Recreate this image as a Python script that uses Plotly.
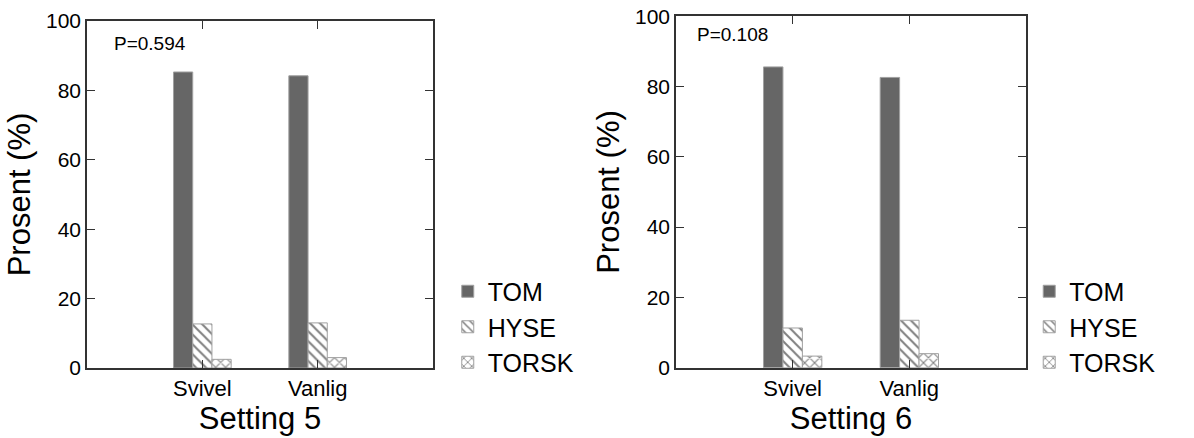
import plotly.graph_objects as go

categories = ["Svivel", "Vanlig"]
series_names = ["TOM", "HYSE", "TORSK"]
setting5_tom = [85.3, 84.2]
setting5_hyse = [12.7, 13.0]
setting5_torsk = [2.5, 3.0]
setting6_tom = [85.6, 82.6]
setting6_hyse = [11.3, 13.5]
setting6_torsk = [3.3, 4.0]
panel_titles = ["Setting 5", "Setting 6"]
p_values = ["P=0.594", "P=0.108"]
y_ticks = [0, 20, 40, 60, 80, 100]

FONT = "Liberation Sans, Arial, sans-serif"

styles = {
    "TOM": dict(color="#666666", pattern=None),
    "HYSE": dict(color="white", pattern=dict(shape="\\", fgcolor="black", bgcolor="white", size=7, solidity=0.28)),
    "TORSK": dict(color="white", pattern=dict(shape="x", fgcolor="black", bgcolor="white", size=7, solidity=0.28)),
}

fig = go.Figure()
panels = [
    (setting5_tom, setting5_hyse, setting5_torsk),
    (setting6_tom, setting6_hyse, setting6_torsk),
]
for i, vals in enumerate(panels):
    xa = "x" if i == 0 else "x2"
    ya = "y" if i == 0 else "y2"
    lg = "legend" if i == 0 else "legend2"
    for name, v in zip(series_names, vals):
        st = styles[name]
        marker = dict(color=st["color"], line=dict(color="#a0a0a0", width=1))
        if st["pattern"]:
            marker["pattern"] = st["pattern"]
        fig.add_trace(go.Bar(
            x=categories, y=v, name=name, marker=marker,
            xaxis=xa, yaxis=ya, legend=lg,
        ))

axis_common = dict(
    showline=True, linecolor="#333333", linewidth=1.5, mirror="ticks",
    ticks="inside", ticklen=8, tickcolor="#333333", tickwidth=1.2,
    showgrid=False, zeroline=False,
)
xfont = dict(family=FONT, size=22, color="black")
yfont = dict(family=FONT, size=21, color="black")
tfont = dict(family=FONT, size=31, color="black")
lfont = dict(family=FONT, size=25, color="black")

fig.update_layout(
    width=1194, height=438,
    paper_bgcolor="white", plot_bgcolor="white",
    margin=dict(l=0, r=0, t=0, b=0),
    barmode="group", bargap=0.5, bargroupgap=0,
    font=dict(family=FONT, color="black"),
    xaxis=dict(domain=[0.07286, 0.36265], anchor="y", range=[-1, 2], tickfont=xfont,
               title=dict(text=panel_titles[0], font=tfont, standoff=2),
               automargin=False, **axis_common),
    yaxis=dict(domain=[0.1598, 0.9521], anchor="x", range=[0, 100], tickvals=y_ticks, tickfont=yfont,
               title=dict(text="Prosent (%)", font=tfont, standoff=6),
               automargin=False, **axis_common),
    xaxis2=dict(domain=[0.56616, 0.85930], anchor="y2", range=[-1, 2], tickfont=xfont,
                title=dict(text=panel_titles[1], font=tfont, standoff=2),
                automargin=False, **axis_common),
    yaxis2=dict(domain=[0.1605, 0.9628], anchor="x2", range=[0, 100], tickvals=y_ticks, tickfont=yfont,
                title=dict(text="Prosent (%)", font=tfont, standoff=6),
                automargin=False, **axis_common),
    legend=dict(x=0.375, y=0.2534, xanchor="left", yanchor="middle",
                font=lfont, bgcolor="rgba(0,0,0,0)", tracegroupgap=0),
    legend2=dict(x=0.862, y=0.2534, xanchor="left", yanchor="middle",
                 font=lfont, bgcolor="rgba(0,0,0,0)", tracegroupgap=0),
    annotations=[
        dict(x=-0.78, y=93.4, xref="x", yref="y", text=p_values[0], showarrow=False,
             xanchor="left", yanchor="middle", font=dict(family=FONT, size=19, color="black")),
        dict(x=-0.84, y=94.7, xref="x2", yref="y2", text=p_values[1], showarrow=False,
             xanchor="left", yanchor="middle", font=dict(family=FONT, size=19, color="black")),
    ],
)

fig.write_html("out.html", config={"displayModeBar": False},
               post_script="document.body.style.margin='0';")
